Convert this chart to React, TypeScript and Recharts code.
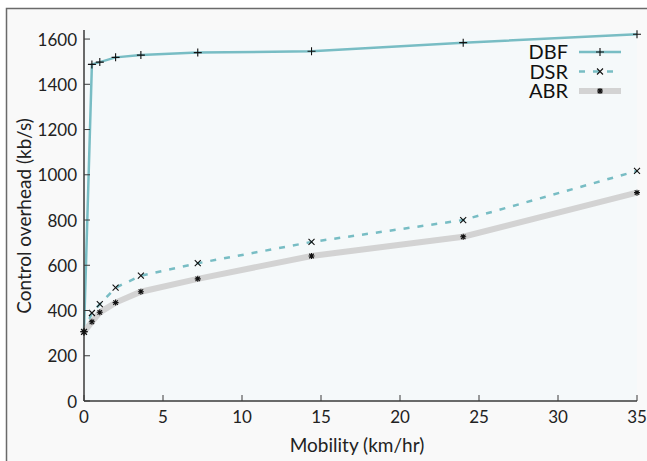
import React from 'react';
import { LineChart, Line, XAxis, YAxis, CartesianGrid, Legend } from 'recharts';

const mobility = [0, 0.5, 1, 2, 3.6, 7.2, 14.4, 24, 35];
const dbfValues = [306, 1488, 1498, 1519, 1529, 1540, 1546, 1584, 1621];
const dsrValues = [306, 389, 428, 501, 554, 609, 703, 800, 1017];
const abrValues = [306, 350, 392, 435, 483, 540, 641, 726, 921];
const xTicks = [0, 5, 10, 15, 20, 25, 30, 35];
const yTicks = [0, 200, 400, 600, 800, 1000, 1200, 1400, 1600];

const data = mobility.map((x, i) => ({ x, DBF: dbfValues[i], DSR: dsrValues[i], ABR: abrValues[i] }));

const TEAL = '#78bdc4';
const GRAY = '#d3d3d3';
const AXIS = '#3a3a3a';
const FONT = 'Lato, "Open Sans", sans-serif';

const plusPath = (cx: number, cy: number, s = 4) => `M${cx - s},${cy}H${cx + s}M${cx},${cy - s}V${cy + s}`;
const crossPath = (cx: number, cy: number, s = 3) => `M${cx - s},${cy - s}L${cx + s},${cy + s}M${cx - s},${cy + s}L${cx + s},${cy - s}`;
const starPath = (cx: number, cy: number, s = 3) => `${plusPath(cx, cy, s)}${crossPath(cx, cy, s * 0.75)}`;

const makeDot = (fn: (cx: number, cy: number) => string) => (props: any) => {
  const { cx, cy, index } = props;
  if (cx == null || cy == null) return <g key={`d-${index}`} />;
  return <path key={`d-${index}`} d={fn(cx, cy)} stroke="#111" strokeWidth={1.1} fill="none" />;
};

const LeftTick = (props: any) => {
  const { x, y, payload } = props;
  const ax = x + 7;
  return (
    <g>
      <line x1={ax} y1={y} x2={ax + 6} y2={y} stroke={AXIS} strokeWidth={1} />
      <text x={x} y={y} dy={6.5} textAnchor="end" fontSize={17} fontFamily={FONT} fill="#222">{payload.value}</text>
    </g>
  );
};

const BottomTick = (props: any) => {
  const { x, y, payload } = props;
  const ay = y - 9;
  return (
    <g>
      <line x1={x} y1={ay} x2={x} y2={ay - 6} stroke={AXIS} strokeWidth={1} />
      <text x={x} y={ay + 22} textAnchor="middle" fontSize={17} fontFamily={FONT} fill="#222">{payload.value}</text>
    </g>
  );
};

const legendItems = [
  { name: 'DBF', color: TEAL, width: 2.5, dash: undefined as string | undefined, marker: plusPath },
  { name: 'DSR', color: TEAL, width: 2.5, dash: '6 8', marker: crossPath },
  { name: 'ABR', color: GRAY, width: 6, dash: undefined as string | undefined, marker: starPath },
];

const LegendContent = () => (
  <svg width={170} height={75} style={{ overflow: 'visible' }}>
    {legendItems.map((it, i) => {
      const cy = 15 + i * 19.5;
      return (
        <g key={it.name}>
          <text x={88} y={cy} dy={7} textAnchor="end" fontSize={20} fontFamily={FONT} fill="#111">{it.name}</text>
          <line x1={99} y1={cy} x2={141} y2={cy} stroke={it.color} strokeWidth={it.width} strokeDasharray={it.dash} />
          <path d={it.marker(120, cy)} stroke="#111" strokeWidth={1.1} fill="none" />
        </g>
      );
    })}
  </svg>
);

export default function App() {
  return (
    <div style={{ position: 'absolute', left: 0, top: 0, width: 647, height: 461, background: '#ffffff', overflow: 'hidden' }}>
      <svg width={647} height={461} style={{ position: 'absolute', left: 0, top: 0, zIndex: 0 }}>
        <rect x={6.5} y={8.5} width={700} height={500} fill="#f9f9f9" stroke="#6a6a6a" strokeWidth={1.5} />
      </svg>
      <div style={{ position: 'absolute', left: 0, top: 0, zIndex: 1 }}>
        <LineChart width={647} height={461} data={data} margin={{ top: 30, right: 10, bottom: 0, left: 0 }}>
          <CartesianGrid fill="#f5f9fa" stroke="none" horizontal={false} vertical={false} />
          <XAxis
            xAxisId="b"
            dataKey="x"
            type="number"
            domain={[0, 35]}
            ticks={xTicks}
            orientation="bottom"
            height={60}
            tickSize={0}
            tickMargin={9}
            tickLine={false}
            axisLine={{ stroke: AXIS, strokeWidth: 1.5 }}
            tick={<BottomTick />}
            interval={0}
            label={{
              content: () => (
                <text x={357} y={452} textAnchor="middle" fontSize={19} fontFamily={FONT} fill="#222">Mobility (km/hr)</text>
              ),
            }}
          />
          <XAxis
            xAxisId="t"
            dataKey="x"
            type="number"
            domain={[0, 35]}
            ticks={xTicks}
            orientation="top"
            height={0}
            mirror
            tickSize={6}
            tickFormatter={() => ''}
            tickLine={{ stroke: AXIS, strokeWidth: 1 }}
            axisLine={{ stroke: AXIS, strokeWidth: 1.5 }}
            interval={0}
          />
          <YAxis
            yAxisId="l"
            type="number"
            domain={[0, 1640]}
            ticks={yTicks}
            orientation="left"
            width={84}
            tickSize={0}
            tickMargin={7}
            tickLine={false}
            axisLine={{ stroke: AXIS, strokeWidth: 1.5 }}
            tick={<LeftTick />}
            interval={0}
            allowDataOverflow
            label={{
              content: () => (
                <text x={0} y={0} transform="translate(31,216) rotate(-90)" textAnchor="middle" fontSize={19} fontFamily={FONT} fill="#222">Control overhead (kb/s)</text>
              ),
            }}
          />
          <YAxis
            yAxisId="r"
            type="number"
            domain={[0, 1640]}
            ticks={yTicks}
            orientation="right"
            width={0}
            mirror
            tickSize={6}
            tickFormatter={() => ''}
            tickLine={{ stroke: AXIS, strokeWidth: 1 }}
            axisLine={{ stroke: AXIS, strokeWidth: 1.5 }}
            interval={0}
          />
          <Legend
            layout="vertical"
            align="center"
            verticalAlign="middle"
            wrapperStyle={{ left: 480, top: 37, width: 170, height: 75 }}
            content={<LegendContent />}
          />
          <Line xAxisId="b" yAxisId="l" dataKey="DBF" stroke={TEAL} strokeWidth={2.5} dot={makeDot(plusPath)} activeDot={false} isAnimationActive={false} />
          <Line xAxisId="b" yAxisId="l" dataKey="DSR" stroke={TEAL} strokeWidth={2.5} strokeDasharray="6 8" dot={makeDot(crossPath)} activeDot={false} isAnimationActive={false} />
          <Line xAxisId="b" yAxisId="l" dataKey="ABR" stroke={GRAY} strokeWidth={6} dot={makeDot(starPath)} activeDot={false} isAnimationActive={false} />
        </LineChart>
      </div>
    </div>
  );
}
